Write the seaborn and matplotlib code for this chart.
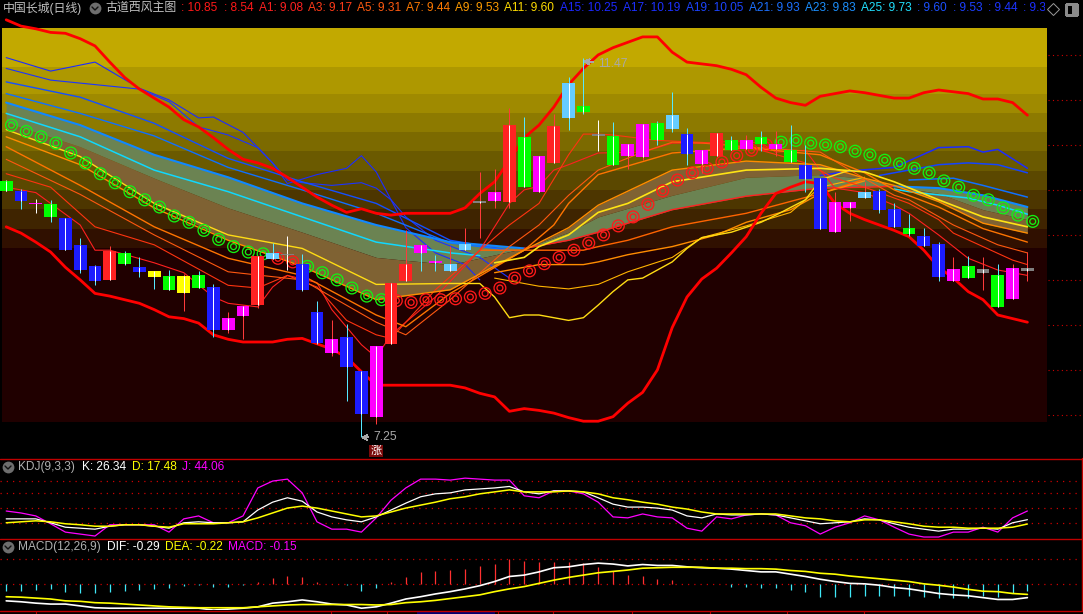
import numpy as np
import matplotlib
matplotlib.use("Agg")
import matplotlib.pyplot as plt
from matplotlib.lines import Line2D
from matplotlib.patches import Rectangle
import seaborn as sns

# candles
candle_class = "GBMGBBBRGB" "YGYGBMMRLW" "BBMBBMRRMM" "LLEMRGMRLG" "WGMMGLBMRG" "MGMGBBMMLB" "BGBBMGEGME"
shadow_class = "wcwccccrcc" "ccrccrrrcw" "ccrccrrrcc" "rrrrrcrrcc" "wcrrcccrrc" "rcrcccrrrc" "ccccrcrcrr"
highs = [10.11, 10.01, 9.90, 9.89, 9.69, 9.47, 9.17, 9.38, 9.32, 9.25,
         9.10, 9.11, 9.07, 9.10, 8.95, 8.64, 8.71, 9.27, 9.41, 9.49,
         9.29, 8.77, 8.55, 8.51, 7.99, 8.27, 8.97, 9.55, 9.39, 9.28,
         9.38, 9.58, 10.20, 10.23, 10.91, 10.81, 10.38, 10.84, 11.25, 11.47,
         10.78, 10.75, 10.51, 10.73, 10.77, 11.09, 10.69, 10.44, 10.63, 10.60,
         10.61, 10.65, 10.65, 10.72, 10.50, 10.13, 9.98, 9.87, 10.09, 10.01,
         9.85, 9.73, 9.58, 9.42, 9.25, 9.27, 9.25, 9.18, 9.18, 9.31]
body_top = [10.10, 9.99, 9.85, 9.84, 9.69, 9.39, 9.15, 9.32, 9.30, 9.14,
            9.10, 9.04, 9.04, 9.05, 8.92, 8.58, 8.71, 9.27, 9.30, 9.29,
            9.18, 8.64, 8.34, 8.37, 7.99, 8.27, 8.97, 9.18, 9.39, 9.21,
            9.18, 9.40, 9.88, 9.98, 10.72, 10.59, 10.38, 10.71, 11.19, 10.93,
            10.62, 10.60, 10.51, 10.73, 10.74, 10.83, 10.62, 10.44, 10.63, 10.55,
            10.55, 10.59, 10.51, 10.44, 10.28, 10.13, 9.87, 9.87, 9.98, 9.99,
            9.79, 9.58, 9.49, 9.40, 9.12, 9.15, 9.12, 9.05, 9.13, 9.13]
body_bot = [9.99, 9.88, 9.84, 9.70, 9.33, 9.11, 8.99, 9.00, 9.18, 9.09,
            9.03, 8.89, 8.85, 8.91, 8.44, 8.44, 8.60, 8.72, 9.23, 9.28,
            8.89, 8.30, 8.19, 8.03, 7.51, 7.48, 8.29, 8.99, 9.30, 9.19,
            9.10, 9.33, 9.85, 9.88, 9.87, 10.03, 9.98, 10.30, 10.80, 10.87,
            10.60, 10.28, 10.38, 10.37, 10.55, 10.68, 10.40, 10.29, 10.38, 10.44,
            10.45, 10.51, 10.45, 10.31, 10.12, 9.57, 9.53, 9.80, 9.91, 9.78,
            9.59, 9.51, 9.38, 9.03, 8.99, 9.02, 9.08, 8.70, 8.79, 9.10]
lows = [9.99, 9.79, 9.74, 9.64, 9.33, 9.08, 8.94, 9.00, 9.17, 9.03,
        8.90, 8.89, 8.65, 8.91, 8.37, 8.41, 8.34, 8.69, 9.23, 9.11,
        8.88, 8.29, 8.15, 7.65, 7.25, 7.40, 8.29, 8.99, 9.10, 9.10,
        9.10, 9.33, 9.47, 9.80, 9.80, 10.03, 9.98, 10.30, 10.67, 10.84,
        10.43, 10.28, 10.23, 10.33, 10.50, 10.64, 10.28, 10.19, 10.38, 10.44,
        10.45, 10.43, 10.38, 10.31, 9.98, 9.57, 9.53, 9.65, 9.91, 9.74,
        9.59, 9.49, 9.38, 8.99, 8.99, 9.02, 8.89, 8.70, 8.79, 8.99]

# thick channel lines
channel_up = [11.89, 11.82, 11.79, 11.75, 11.74, 11.68, 11.60, 11.42, 11.25, 11.12,
              11.02, 10.92, 10.78, 10.70, 10.58, 10.45, 10.34, 10.30, 10.24, 10.14,
              10.03, 9.92, 9.83, 9.75, 9.79, 9.74, 9.72, 9.74, 9.74, 9.74,
              9.74, 9.80, 9.96, 10.09, 10.33, 10.58, 10.72, 10.92, 11.17, 11.35,
              11.50, 11.58, 11.64, 11.70, 11.70, 11.53, 11.42, 11.40, 11.38, 11.34,
              11.28, 11.14, 11.02, 10.97, 10.94, 11.04, 11.07, 11.10, 11.08, 11.05,
              11.02, 11.02, 11.08, 11.11, 11.09, 11.07, 11.01, 11.01, 10.97, 10.83]
channel_dn = [9.59, 9.52, 9.42, 9.31, 9.14, 9.00, 8.85, 8.82, 8.78, 8.74,
              8.67, 8.59, 8.57, 8.52, 8.39, 8.34, 8.31, 8.31, 8.31, 8.34,
              8.35, 8.29, 8.23, 8.14, 7.98, 7.83, 7.83, 7.83, 7.83, 7.83,
              7.83, 7.80, 7.74, 7.70, 7.54, 7.57, 7.55, 7.52, 7.47, 7.43,
              7.43, 7.48, 7.63, 7.75, 8.00, 8.47, 8.81, 9.01, 9.13, 9.30,
              9.48, 9.74, 9.96, 10.03, 10.09, 10.07, 9.85, 9.74, 9.67, 9.61,
              9.55, 9.48, 9.33, 9.14, 9.02, 8.87, 8.78, 8.61, 8.57, 8.53]

# circle signal above/below the ribbon, one per day
signal = [10.72, 10.65, 10.59, 10.52, 10.41, 10.30, 10.18, 10.08, 9.98, 9.89,
          9.81, 9.71, 9.64, 9.55, 9.45, 9.37, 9.31, 9.29, 9.24, 9.20,
          9.15, 9.08, 9.00, 8.91, 8.82, 8.78, 8.77, 8.75, 8.78, 8.78,
          8.79, 8.81, 8.85, 8.91, 9.02, 9.10, 9.18, 9.25, 9.33, 9.41,
          9.50, 9.60, 9.70, 9.84, 9.99, 10.11, 10.19, 10.24, 10.31, 10.38,
          10.44, 10.50, 10.53, 10.55, 10.52, 10.50, 10.48, 10.43, 10.39, 10.33,
          10.29, 10.24, 10.19, 10.10, 10.03, 9.94, 9.89, 9.80, 9.72, 9.65]
signal_red = [18, 19] + list(range(26, 52))

# ribbon edges
rib_days = [0, 5, 10, 15, 20, 25, 30, 35, 38, 40, 45, 50, 55, 58, 60, 63, 66, 69]
rib_outer = [10.97, 10.72, 10.39, 10.14, 9.85, 9.61, 9.42, 9.35, 9.44, 9.53, 9.78, 9.93, 10.02, 10.03, 10.04, 10.02, 9.94, 9.81]
rib_mid = [10.75, 10.48, 10.13, 9.80, 9.53, 9.25, 9.17, 9.35, 9.53, 9.70, 9.94, 10.14, 10.17, 10.13, 10.04, 9.96, 9.78, 9.67]
rib_inner = [10.67, 10.37, 9.85, 9.44, 9.15, 8.78, 8.89, 9.33, 9.58, 9.83, 10.22, 10.32, 10.28, 10.13, 10.05, 9.87, 9.63, 9.52]
orange1 = [10.59, 10.28, 9.80, 9.44, 9.15, 8.78, 8.89, 9.33, 9.58, 9.83, 10.22, 10.32, 10.28, 10.13, 10.05, 9.87, 9.63, 9.52]

# thin lines: day lists and prices
yellow_a_days = [0, 5, 10, 15, 20, 25, 30, 32, 33, 34, 35, 36, 38, 39, 40, 41, 42, 43, 45, 46, 47, 49, 51, 52, 54, 55, 57]
yellow_a = [10.67, 10.37, 9.85, 9.50, 9.35, 8.95, 8.96, 8.96, 8.81, 8.58, 8.61, 8.61, 8.55, 8.58, 8.72, 8.87, 9.00, 9.02, 9.20, 9.35, 9.47, 9.53, 9.64, 9.72, 9.89, 10.11, 10.22]
yellow_b_days = [33, 35, 36, 38, 40, 42, 45, 50, 55, 58, 60, 63, 66, 69]
yellow_b = [9.19, 9.25, 9.37, 9.50, 9.75, 9.85, 10.09, 10.22, 10.24, 10.20, 10.09, 9.89, 9.70, 9.59]

blue1_days = [0, 3, 6, 9, 11, 13, 14, 16, 18, 19, 21, 23, 24, 25, 27, 28, 29, 31, 32]
blue1 = [11.47, 11.32, 11.42, 11.13, 11.00, 10.80, 10.81, 10.64, 10.30, 10.07, 10.17, 10.24, 10.38, 10.20, 9.58, 9.44, 9.30, 9.17, 9.00]
blue2_days = [0, 3, 6, 9, 11, 13, 15, 17, 18, 19, 20, 22, 24, 25, 26, 27, 29, 32, 34]
blue2 = [11.35, 11.22, 11.17, 11.12, 10.98, 10.70, 10.61, 10.47, 10.30, 10.11, 10.08, 10.05, 10.08, 10.02, 9.89, 9.70, 9.44, 9.25, 9.02]
blue34_days = [0, 5, 10, 15, 20, 25, 30, 34]
blue3 = [11.20, 11.03, 10.74, 10.35, 10.09, 9.85, 9.44, 9.33]
blue4 = [11.07, 10.85, 10.60, 10.25, 10.00, 9.74, 9.41, 9.33]
cyan_days = [0, 5, 10, 15, 20, 25, 30, 32]
cyan_line = [10.85, 10.59, 10.22, 9.98, 9.70, 9.42, 9.30, 9.27]

blue1r_days = [55, 57, 60, 63, 65, 66, 67, 69]
blue1r = [10.16, 10.21, 10.25, 10.47, 10.48, 10.42, 10.45, 10.24]
blue2r_days = [59, 61, 63, 65, 67, 69]
blue2r = [10.16, 10.22, 10.28, 10.30, 10.28, 10.19]
blue3r_days = [61, 64, 66, 69]
blue3r = [10.11, 10.13, 10.05, 9.92]
cyanr_days = [60, 61, 65, 67, 69]
cyanr = [10.01, 9.98, 9.91, 9.83, 9.73]

red2_days = [0, 2, 5, 6, 7, 10, 12, 14, 15, 17, 18, 19, 21, 22, 24, 25, 26, 29, 32, 34, 35, 36, 37, 38, 40, 43, 45, 48, 49, 51, 52, 54, 55, 56, 58, 60, 61, 63, 64, 65, 67, 68, 69]
red2 = [10.03, 9.97, 9.61, 9.33, 9.33, 9.19, 9.08, 8.81, 8.74, 8.70, 8.92, 9.05, 8.97, 8.67, 8.28, 8.14, 8.39, 8.81, 9.33, 9.85, 10.00, 10.04, 10.22, 10.28, 10.41, 10.42, 10.52, 10.52, 10.55, 10.52, 10.42, 10.44, 10.22, 10.02, 9.97, 9.83, 9.74, 9.50, 9.37, 9.24, 9.11, 9.08, 9.05]
red1_days = [0, 3, 6, 10, 15, 17, 19, 21, 23, 25, 26, 29, 32, 34, 36, 38, 39, 40, 41, 44, 48, 51, 54, 56, 58, 61, 63, 64, 66, 68, 69]
red1 = [10.18, 10.03, 9.59, 9.39, 8.94, 8.91, 9.05, 8.92, 8.55, 8.39, 8.35, 8.89, 9.33, 9.61, 9.85, 10.39, 10.62, 10.62, 10.61, 10.55, 10.52, 10.44, 10.30, 10.13, 10.03, 9.85, 9.67, 9.52, 9.37, 9.22, 9.17]
orange3_days = [0, 5, 10, 15, 20, 25, 27, 30, 34, 36, 38, 40, 43, 45, 47, 50, 55, 57, 60, 61, 64, 67, 69]
orange3 = [10.34, 9.95, 9.50, 9.09, 9.00, 8.53, 8.39, 8.78, 9.37, 9.61, 9.94, 10.22, 10.42, 10.53, 10.52, 10.48, 10.42, 10.22, 9.94, 9.89, 9.61, 9.39, 9.30]
orange2_days = [0, 5, 10, 15, 20, 25, 27, 30, 35, 37, 38, 40, 45, 50, 55, 58, 60, 63, 66, 69]
orange2 = [10.48, 10.05, 9.59, 9.24, 9.05, 8.61, 8.48, 8.85, 9.33, 9.61, 9.85, 10.17, 10.41, 10.47, 10.39, 10.19, 10.00, 9.81, 9.57, 9.42]

low1_days = [32, 36, 39, 40, 42, 45, 50, 55, 58]
low1 = [9.33, 9.33, 9.33, 9.37, 9.44, 9.59, 9.74, 9.96, 10.12]
low2_days = [33, 36, 39, 40, 42, 45, 48, 50, 53, 55, 58]
low2 = [9.08, 9.17, 9.17, 9.20, 9.28, 9.37, 9.50, 9.64, 9.78, 9.96, 10.10]
low3_days = [33, 36, 38, 40, 42, 45, 47, 50, 53, 55, 58]
low3 = [9.02, 8.93, 8.90, 8.95, 9.09, 9.25, 9.47, 9.60, 9.75, 10.03, 10.14]

# background stripes (price edges, top to bottom) and right hand price levels
band_edges = [11.80, 11.37, 11.07, 10.85, 10.64, 10.43, 10.21, 10.00, 9.79, 9.57, 9.35, 7.42]
band_colors = ['#c2a900', '#ae9800', '#9f8a00', '#8d7a00', '#7c6a00', '#6b5a00', '#5b4800', '#4d3600', '#3f2400', '#301000', '#200000']
price_levels = [11.5, 11.0, 10.5, 10.0, 9.5, 9.0, 8.5, 8.0, 7.5]

# KDJ
k_vals = [28, 28, 28, 20, 11, 9, 7, 13, 16, 16, 13, 9, 20, 22, 20, 20, 22, 46, 62, 71,
          64, 42, 32, 26, 22, 32, 46, 60, 73, 79, 81, 87, 89, 91, 94, 83, 79, 85, 85, 83,
          71, 58, 52, 52, 50, 46, 34, 30, 38, 36, 36, 38, 36, 30, 24, 18, 20, 22, 28, 26,
          18, 11, 7, 3, 7, 7, 9, 7, 20, 26.34]
d_vals = [20, 22, 24, 22, 18, 16, 13, 13, 16, 16, 13, 11, 18, 18, 18, 20, 22, 30, 40, 50,
          54, 50, 44, 38, 32, 34, 42, 50, 56, 62, 69, 73, 79, 83, 87, 83, 83, 83, 85, 83,
          79, 71, 67, 62, 58, 52, 48, 42, 38, 38, 38, 38, 38, 34, 30, 28, 24, 22, 26, 26,
          22, 18, 13, 11, 11, 9, 9, 9, 11, 17.48]
j_vals = [44, 40, 34, 18, 1, -3, -7, 16, 16, 16, 16, 1, 28, 34, 20, 20, 34, 91, 105, 109,
          81, 22, 7, 7, 1, 30, 66, 91, 109, 109, 107, 111, 109, 107, 107, 75, 71, 85, 85, 79,
          62, 32, 30, 38, 32, 30, 9, 3, 32, 28, 36, 38, 36, 20, 14, -3, 11, 20, 34, 26,
          11, -3, -9, -9, 1, 1, 11, 1, 30, 44.06]
kdj_levels = [20, 50, 80, 105]

# MACD
dif = [-.36, -.38, -.41, -.43, -.43, -.47, -.51, -.52, -.52, -.52,
       -.52, -.52, -.52, -.52, -.56, -.54, -.52, -.49, -.41, -.38,
       -.34, -.38, -.43, -.45, -.52, -.49, -.41, -.32, -.27, -.21,
       -.16, -.10, -.03, .06, .17, .20, .27, .36, .38, .43,
       .46, .44, .40, .43, .41, .41, .38, .36, .35, .33,
       .30, .27, .27, .22, .17, .11, .06, .02, .01, -.02,
       -.07, -.10, -.15, -.20, -.23, -.25, -.29, -.33, -.33, -.29]
dea = [-.27, -.28, -.30, -.32, -.36, -.37, -.40, -.41, -.43, -.45,
       -.47, -.49, -.50, -.51, -.51, -.51, -.51, -.49, -.47, -.45,
       -.44, -.44, -.44, -.44, -.44, -.45, -.44, -.40, -.38, -.35,
       -.31, -.27, -.23, -.16, -.10, -.05, .02, .09, .15, .20,
       .25, .28, .31, .35, .36, .37, .37, .37, .35, .35,
       .34, .34, .33, .30, .28, .24, .22, .18, .15, .12,
       .09, .06, .01, -.02, -.06, -.11, -.15, -.16, -.20, -.22]
macd_bar = [-.15, -.14, -.12, -.11, -.16, -.18, -.20, -.16, -.14, -.12,
            -.10, -.07, -.04, -.02, -.06, -.06, -.02, .06, .14, .18,
            .16, .05, .01, -.02, -.14, -.09, .05, .16, .27, .29,
            .31, .33, .40, .44, .55, .51, .49, .48, .48, .46,
            .37, .28, .20, .18, .12, .09, .0, .01, .0, -.05,
            -.05, -.07, -.07, -.12, -.16, -.27, -.27, -.27, -.25, -.25,
            -.25, -.25, -.27, -.29, -.29, -.29, -.25, -.27, -.20, -.15]
macd_levels = [0.54, 0.0]

W, H = 1083, 614
X_MIN, X_MAX = -6.2 / 14.8, (W - 6.2) / 14.8
THIN = 0.8

sns.set_theme(style="dark", rc={
    "figure.facecolor": "black", "axes.facecolor": "none", "savefig.facecolor": "black",
    "axes.grid": False, "patch.antialiased": False,
})
plt.rcParams['font.family'] = ['Liberation Sans', 'Noto Sans CJK SC', 'DejaVu Sans']


def px(x, y):
    return x / W, 1 - y / H


def panel(top, bottom, ymin, ymax):
    a = fig.add_axes([0, 1 - bottom / H, 1, (bottom - top) / H])
    a.set_xlim(X_MIN, X_MAX)
    a.set_ylim(ymin, ymax)
    a.set_axis_off()
    return a


def draw(a, x, y, color, lw=THIN, z=2):
    sns.lineplot(x=x, y=y, ax=a, color=color, linewidth=lw, estimator=None, sort=False, legend=False, zorder=z)


def label(x, y, s, color, size=8.6):
    fig.text(*px(x, y), s, color=color, fontsize=size, va='center', ha='left')


def fig_line(xs, ys, color, lw=0.8):
    xf, yf = zip(*[px(a, b) for a, b in zip(xs, ys)])
    fig.add_artist(Line2D(xf, yf, color=color, lw=lw))


def chevron_icon(x, y):
    fig.add_artist(Line2D(*[[v] for v in px(x, y)], marker='o', ms=8.5, color='#6e6e6e', mew=0))
    fig_line([x - 3, x, x + 3], [y - 1, y + 2, y - 1], '#111111', 1.0)


fig = plt.figure(figsize=(W / 100, H / 100), dpi=100)
ax = panel(14, 458, 12.11 - 458 / 90, 12.11 - 14 / 90)
ax_kdj = panel(459, 538, -11, 150)
ax_macd = panel(539, 610, -0.559, 0.985)

# main panel background
for top_edge, low_edge, col in zip(band_edges[:-1], band_edges[1:], band_colors):
    ax.axhspan(low_edge, top_edge, xmin=2 / W, xmax=1047 / W, color=col, lw=0, zorder=0)
ax.hlines(price_levels, (1048 - 6.2) / 14.8, X_MAX, color='#cc0000', lw=0.8, linestyles=(0, (1, 3)), zorder=1)

# ribbon
ax.fill_between(rib_days, rib_outer, rib_mid, color='#6b8352', lw=0, zorder=1)
ax.fill_between(rib_days, rib_mid, rib_inner, color='#7f6233', lw=0, zorder=1)

draw(ax, blue1_days, blue1, '#1c2cff')
draw(ax, blue2_days, blue2, '#1c34ff')
draw(ax, blue34_days, blue3, '#1450ff', 1.0)
draw(ax, blue34_days, blue4, '#1070ff', 1.0)
draw(ax, rib_days[:8], rib_outer[:8], '#1088ff', 1.5)
draw(ax, rib_days[7:15], rib_outer[7:15], '#ff2020', 1.0)
draw(ax, rib_days[14:], rib_outer[14:], '#1088ff', 1.5)
draw(ax, cyan_days, cyan_line, '#10d8ff', 1.1)
draw(ax, cyanr_days, cyanr, '#10d8ff', 1.1)
draw(ax, blue1r_days, blue1r, '#1c2cff', 1.1)
draw(ax, blue2r_days, blue2r, '#1444ff', 1.1)
draw(ax, blue3r_days, blue3r, '#1070ff', 1.1)
draw(ax, low1_days, low1, '#ff6400', 1.0)
draw(ax, low2_days, low2, '#ff8c00', 1.0)
draw(ax, low3_days, low3, '#ffb400')
draw(ax, red2_days, red2, '#ff2020')
draw(ax, red1_days, red1, '#ff3410')
draw(ax, orange3_days, orange3, '#ff5810')
draw(ax, orange2_days, orange2, '#ff7400', 1.0)
draw(ax, rib_days, orange1, '#ff8c00', 1.0)
draw(ax, yellow_a_days, yellow_a, '#ffdc14', 1.0)
draw(ax, yellow_b_days, yellow_b, '#ffe414', 1.2)
draw(ax, list(range(70)), channel_up, '#ff0000', 2.0, z=2.2)
draw(ax, list(range(70)), channel_dn, '#ff0000', 2.0, z=2.2)

# circle signal
days = np.arange(70)
sig_cols = ['#ff1a1a' if d in signal_red else '#14f014' for d in days]
for size in (72, 18):
    ax.scatter(days + 0.36, signal, s=size, marker='o', facecolors='none', edgecolors=sig_cols,
               linewidths=0.95, antialiaseds=True, zorder=2.5)

# candles
body_col = {'R': '#ff2222', 'G': '#00ff00', 'B': '#1c1cff', 'M': '#ff00ff', 'L': '#66ccff',
            'Y': '#ffff00', 'W': '#808080', 'E': '#808080'}
shadow_col = {'r': '#ff3a3a', 'c': '#55e8ff', 'w': '#ffffff'}
ax.vlines(days, lows, highs, colors=[shadow_col[c] for c in shadow_class], lw=0.72, zorder=3)
ax.bar(days, np.array(body_top) - np.array(body_bot), bottom=body_bot, width=0.87,
       color=[body_col[c] for c in candle_class], lw=0, zorder=4)
ax.vlines(days, body_bot, body_top, colors='white', lw=0.72, zorder=5)

# extreme labels
ax.annotate('11.47', xy=(39, 11.43), xytext=(40.0, 11.40), color='#a8a8a8', fontsize=8.8, va='center',
            arrowprops=dict(arrowstyle='->', color='#a8a8a8', lw=0.7, shrinkA=1, shrinkB=0), zorder=6)
ax.annotate('7.25', xy=(24, 7.25), xytext=(24.8, 7.25), color='#a8a8a8', fontsize=8.8, va='center',
            arrowprops=dict(arrowstyle='->', color='#a8a8a8', lw=0.7, shrinkA=1, shrinkB=0), zorder=6)
fig.text(*px(376, 451), '涨', color='white', fontsize=8, ha='center', va='center',
         bbox=dict(boxstyle='square,pad=0.1', fc='#7a0a0a', ec='none'))

# KDJ panel
ax_kdj.hlines(kdj_levels, X_MIN, (1078 - 6.2) / 14.8, color='#cc0000', lw=0.9, linestyles=(0, (1, 4)))
draw(ax_kdj, days, j_vals, '#ff00ff', 0.9)
draw(ax_kdj, days, k_vals, '#ffffff', 0.9)
draw(ax_kdj, days, d_vals, '#ffff00', 1.1)

# MACD panel
ax_macd.hlines(macd_levels, X_MIN, (1078 - 6.2) / 14.8, color='#cc0000', lw=0.9, linestyles=(0, (1, 4)))
bar_cols = ['#ff3030' if v > 0 else '#40e8f8' for v in macd_bar]
ax_macd.vlines(days, 0, macd_bar, colors=bar_cols, lw=0.9)
draw(ax_macd, days, dif, '#ffffff', 1.2)
draw(ax_macd, days, dea, '#ffff00', 1.2)

# panel frames
for yy in (458.5, 538.5, 610.5):
    fig_line([0, W], [yy, yy], '#c00000', 1.0)
fig_line([1081.5, 1081.5], [458, 611], '#c00000', 1.0)
for tx in (36, 331, 387, 498, 553, 632, 710, 787, 864):
    fig_line([tx, tx], [611, 614], '#b80000')
fig.add_artist(Rectangle(px(417, 614), 78 / W, 3.5 / H, transform=fig.transFigure, fc='#000070', ec='none'))

# header
label(3, 8, '中国长城(日线)', '#c0c0c0')
chevron_icon(95, 8)
label(105, 8, '古道西风主图', '#c0c0c0')
header = [(181, ': 10.85', '#ff1818'), (224, ': 8.54', '#ff1818'), (259, 'A1: 9.08', '#ff2020'),
          (308, 'A3: 9.17', '#ff3a18'), (357, 'A5: 9.31', '#ff5a10'), (406, 'A7: 9.44', '#ff7a00'),
          (455, 'A9: 9.53', '#ff9c00'), (504, 'A11: 9.60', '#ffdc00'), (560, 'A15: 10.25', '#1c28ff'),
          (623, 'A17: 10.19', '#1c30ff'), (686, 'A19: 10.05', '#1c44ff'), (749, 'A21: 9.93', '#1c70ff'),
          (805, 'A23: 9.83', '#1c90ff'), (861, 'A25: 9.73', '#20e0ff'), (917, ': 9.60', '#1c50ff'),
          (953, ': 9.53', '#1c40ff'), (988, ': 9.44', '#1c34ff')]
for hx, txt, col in header:
    label(hx, 8, txt, col)
t = fig.text(*px(1023, 8), ': 9.31', color='#1c30ff', fontsize=8.6, va='center')
t.set_clip_path(Rectangle(px(1000, 16), 45 / W, 16 / H, transform=fig.transFigure))
fig.add_artist(Line2D(*[[v] for v in px(1053, 9)], marker='D', ms=6, mfc='none', mec='#9a9a9a', mew=0.7))
fig.add_artist(Rectangle(px(1066, 15), 11 / W, 11 / H, transform=fig.transFigure, fc='none', ec='#8a8a8a', lw=0.8))
fig.add_artist(Rectangle(px(1072, 14), 4 / W, 9 / H, transform=fig.transFigure, fc='#8a8a8a', ec='none'))

# KDJ / MACD captions
chevron_icon(8, 467)
label(18, 467, 'KDJ(9,3,3)', '#b0b0b0')
label(82, 467, 'K: 26.34', '#ffffff')
label(132, 467, 'D: 17.48', '#ffff00')
label(182, 467, 'J: 44.06', '#ff00ff')
chevron_icon(8, 547)
label(18, 547, 'MACD(12,26,9)', '#b0b0b0')
label(107, 547, 'DIF: -0.29', '#ffffff')
label(165, 547, 'DEA: -0.22', '#ffff00')
label(228, 547, 'MACD: -0.15', '#ff00ff')

fig.savefig('out.png', dpi=100)
